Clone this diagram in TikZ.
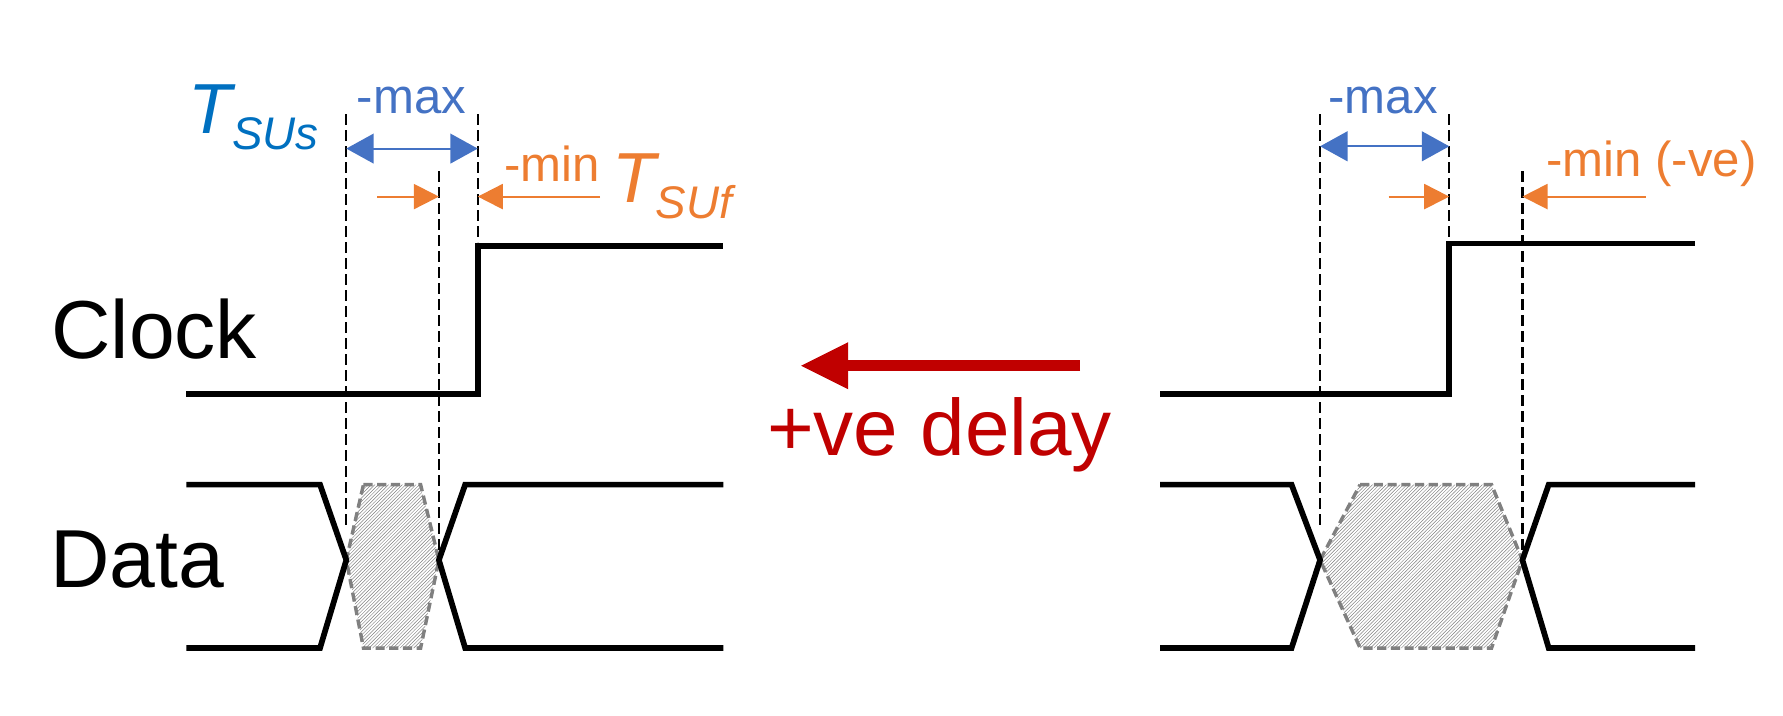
\documentclass[tikz,border=0pt]{standalone}
\usepackage{fontspec}
\setmainfont{Liberation Sans}
\usetikzlibrary{arrows.meta,patterns}
\definecolor{bl}{HTML}{4472C4}
\definecolor{bt}{HTML}{0070C0}
\definecolor{or}{HTML}{ED7D31}
\definecolor{dr}{HTML}{C00000}
\tikzset{sig/.style={line width=5pt,line join=miter},
 guide/.style={line width=2pt,dash pattern=on 9pt off 5pt},
 win/.style={draw=gray,line width=3pt,dash pattern=on 8pt off 4pt,pattern=north east lines,pattern color=gray},
 barr/.style={bl,line width=1.8pt,{Triangle[length=24pt,width=26pt]}-{Triangle[length=24pt,width=26pt]}},
 oarr/.style={or,line width=1.8pt,-{Triangle[length=22pt,width=22pt]}},
 lbl/.style={inner sep=0pt,font=\fontsize{72}{80}\selectfont},
 sm/.style={inner sep=0pt,font=\fontsize{43}{50}\selectfont}}
\begin{document}
\begin{tikzpicture}[x=1pt,y=-1pt]
\useasboundingbox (0,0) rectangle (1560,626);
% labels
\node[lbl] (clk) at (135,288) {Clock};
\node[lbl] (dat) at (120,490) {Data};
% left panel
\path[win] (318,424)--(368,424)--(384,490)--(368,567)--(318,567)--(303,490)--cycle;
\draw[guide] (303,100)--(303,462);
\draw[guide] (384,150)--(384,490);
\draw[guide] (418,100)--(418,212);
\draw[sig] (163,345)--(418,345)--(418,215)--(633,215);
\draw[sig] (163,424)--(280,424)--(303,490)--(280,567)--(163,567);
\draw[sig] (633,424)--(407,424)--(384,490)--(407,567)--(633,567);
\coordinate (a1) at (303,130); \coordinate (a2) at (418,130);
\draw[barr] (a1)--(a2);
\node[sm,bl] (mx1) at (360,88) {-max};
\node[inner sep=0pt,bt,font=\fontsize{62}{70}\selectfont\itshape] (tsus) at (222,103) {T\raisebox{-14pt}{\fontsize{40}{44}\selectfont SUs}};
\coordinate (o1) at (330,172); \coordinate (o2) at (384,172);
\draw[oarr] (o1)--(o2);
\coordinate (o3) at (525,172); \coordinate (o4) at (418,172);
\draw[oarr] (o3)--(o4);
\node[sm,or] (mn1) at (483,143) {-min};
\node[inner sep=0pt,or,font=\fontsize{62}{70}\selectfont\itshape] (tsuf) at (588,163) {T\raisebox{-14pt}{\fontsize{40}{44}\selectfont SUf}};
% middle
\coordinate (r1) at (945,320); \coordinate (r2) at (700,320);
\draw[dr,line width=10pt,-{Triangle[length=42pt,width=38pt]}] (r1)--(r2);
\node[dr,lbl,font=\fontsize{70}{80}\selectfont] (dly) at (822,380) {+ve delay};
% right panel
\path[win] (1190,424)--(1305,424)--(1332,490)--(1305,567)--(1190,567)--(1155,490)--cycle;
\draw[guide] (1155,100)--(1155,462);
\draw[guide] (1268,100)--(1268,212);
\draw[guide] (1332,150)--(1332,490);
\draw[sig] (1015,345)--(1268,345)--(1268,213)--(1483,213);
\draw[sig] (1015,424)--(1130,424)--(1155,490)--(1130,567)--(1015,567);
\draw[sig] (1483,424)--(1355,424)--(1332,490)--(1355,567)--(1483,567);
\coordinate (b1) at (1155,128); \coordinate (b2) at (1268,128);
\draw[barr] (b1)--(b2);
\node[sm,bl] (mx2) at (1210,88) {-max};
\coordinate (p1) at (1215,172); \coordinate (p2) at (1268,172);
\draw[oarr] (p1)--(p2);
\coordinate (p3) at (1440,172); \coordinate (p4) at (1332,172);
\draw[oarr] (p3)--(p4);
\node[sm,or] (mn2) at (1445,143) {-min (-ve)};
\end{tikzpicture}
\end{document}
